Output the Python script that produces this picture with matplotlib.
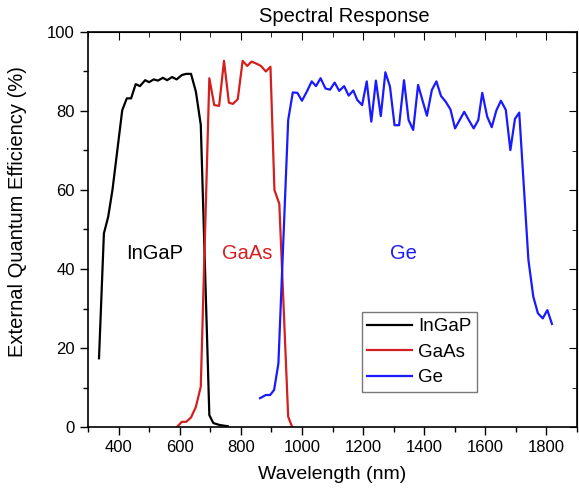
import numpy as np
import matplotlib.pyplot as plt
from matplotlib.ticker import MultipleLocator

plt.rcParams['font.family'] = ['Liberation Sans', 'DejaVu Sans']

# InGaP top cell
ingap_x = [336, 352, 366, 380, 412, 427, 441, 456, 470, 487, 500, 515, 529, 545,
           559, 575, 590, 607, 621, 637, 653, 669, 697, 710, 731, 757]
ingap_y = [17.4, 49.0, 53.2, 60.0, 80.2, 83.2, 83.2, 86.8, 86.3, 87.8, 87.3, 88.0,
           87.7, 88.4, 87.8, 88.6, 88.0, 89.1, 89.4, 89.4, 84.9, 76.5, 3.0, 1.0, 0.5, 0.2]

# GaAs middle cell
gaas_x = [592, 607, 621, 637, 653, 669, 697, 713, 729, 745, 761, 774, 790, 806,
          821, 835, 851, 866, 882, 897, 910, 926, 955, 968]
gaas_y = [0.1, 1.3, 1.3, 2.4, 5.1, 10.2, 88.3, 81.5, 81.3, 92.7, 82.1, 81.8, 83.0,
          92.7, 91.4, 92.5, 92.0, 91.4, 90.0, 91.2, 60.0, 56.5, 2.6, 0.0]

# Ge bottom cell
ge_x = [863, 882, 896, 909, 923, 955, 970, 985, 1000, 1016, 1032, 1046, 1061, 1077,
        1092, 1107, 1122, 1138, 1153, 1168, 1181, 1197, 1212, 1227, 1242, 1258,
        1273, 1288, 1303, 1318, 1334, 1349, 1364, 1380, 1394, 1409, 1425, 1440,
        1455, 1470, 1486, 1501, 1516, 1531, 1546, 1562, 1577, 1590, 1606, 1621,
        1636, 1651, 1667, 1682, 1697, 1711, 1741, 1757, 1772, 1788, 1803, 1818]
ge_y = [7.3, 8.1, 8.1, 9.4, 16.1, 77.7, 84.7, 84.6, 82.6, 84.9, 87.5, 86.3, 88.3,
        85.7, 85.4, 87.2, 85.1, 86.3, 83.9, 85.2, 82.8, 81.5, 87.5, 77.3, 87.7,
        78.7, 89.8, 86.2, 76.4, 76.4, 87.8, 77.7, 75.2, 86.6, 82.8, 78.8, 85.3,
        87.5, 83.8, 82.4, 80.4, 75.6, 77.7, 79.8, 77.7, 75.6, 77.7, 84.6, 78.6,
        75.9, 80.1, 82.6, 80.3, 70.1, 78.0, 79.6, 42.3, 33.0, 28.8, 27.5, 29.6, 26.1]

red = '#d41f1f'
blue = '#1a1aff'

fig = plt.figure(figsize=(5.79, 4.94), dpi=100)
ax = fig.add_axes([88/579, 67/494, 489/579, 395/494])

ax.plot(ingap_x, ingap_y, color='black', lw=1.6, label='InGaP')
ax.plot(gaas_x, gaas_y, color=red, lw=1.6, label='GaAs')
ax.plot(ge_x, ge_y, color=blue, lw=1.6, label='Ge')

ax.text(518, 44, 'InGaP', color='black', fontsize=14.5, ha='center', va='center')
ax.text(822, 44, 'GaAs', color=red, fontsize=14.5, ha='center', va='center')
ax.text(1331, 44, 'Ge', color=blue, fontsize=14.5, ha='center', va='center')

ax.set_xlim(300, 1900)
ax.set_ylim(0, 100)
ax.xaxis.set_major_locator(MultipleLocator(200))
ax.xaxis.set_minor_locator(MultipleLocator(100))
ax.yaxis.set_major_locator(MultipleLocator(20))
ax.yaxis.set_minor_locator(MultipleLocator(10))
ax.set_xticks(range(400, 1801, 200))

ax.tick_params(which='both', direction='out', labelsize=12)
ax.tick_params(which='major', length=6, width=1)
ax.tick_params(which='minor', length=3.5, width=1)

# mirrored inward ticks on top and right
sec_x = ax.secondary_xaxis('top')
sec_x.xaxis.set_major_locator(MultipleLocator(200))
sec_x.xaxis.set_minor_locator(MultipleLocator(100))
sec_x.tick_params(which='both', direction='in', labeltop=False)
sec_x.tick_params(which='major', length=6)
sec_x.tick_params(which='minor', length=3.5)
sec_y = ax.secondary_yaxis('right')
sec_y.yaxis.set_major_locator(MultipleLocator(20))
sec_y.yaxis.set_minor_locator(MultipleLocator(10))
sec_y.tick_params(which='both', direction='in', labelright=False)
sec_y.tick_params(which='major', length=6)
sec_y.tick_params(which='minor', length=3.5)

for s in ax.spines.values():
    s.set_linewidth(1.2)

ax.set_xlabel('Wavelength (nm)', fontsize=14, labelpad=8)
ax.set_ylabel('External Quantum Efficiency (%)', fontsize=14.5)
ax.yaxis.set_label_coords(-0.125, 0.545)
ax.set_title('Spectral Response', fontsize=14.5, x=0.524, pad=7)

leg = ax.legend(loc='lower left', bbox_to_anchor=(0.56, 0.089), fontsize=13.5,
                frameon=True, fancybox=False, handlelength=2.4, borderpad=0.3,
                labelspacing=0.45, handletextpad=0.3, borderaxespad=0)
leg.get_frame().set_edgecolor('#555555')
leg.get_frame().set_linewidth(1)

fig.savefig('out.png', dpi=100)
